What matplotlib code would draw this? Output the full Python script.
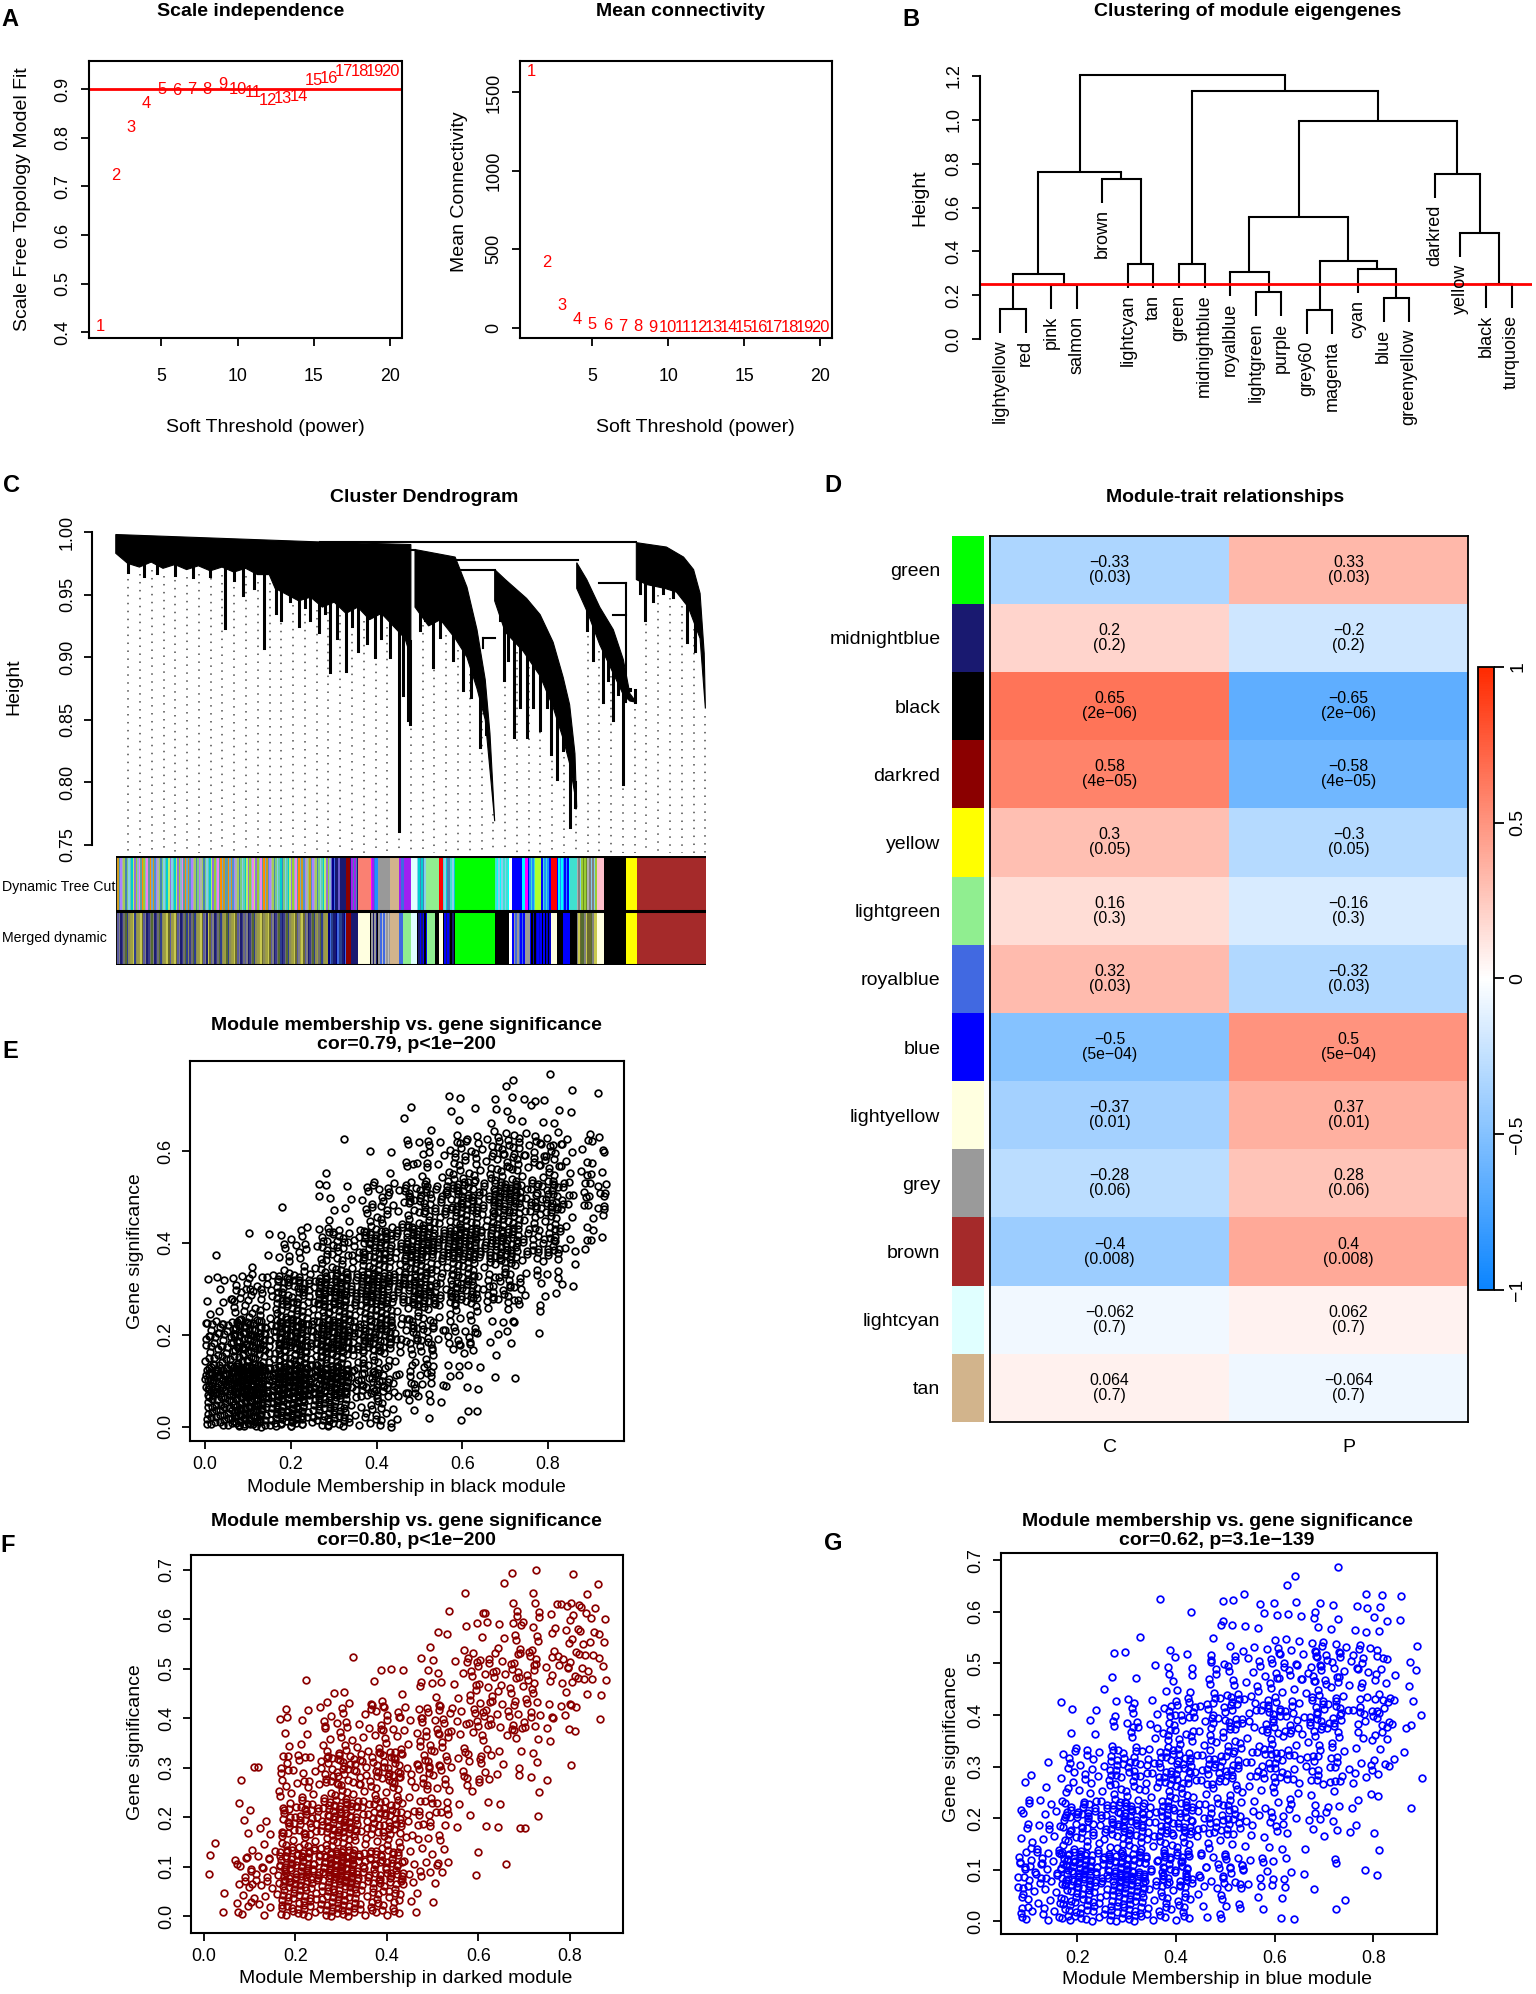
import numpy as np
import matplotlib
matplotlib.use('Agg')
import matplotlib.pyplot as plt
from matplotlib import font_manager
from matplotlib.colors import LinearSegmentedColormap, Normalize
from matplotlib.cm import ScalarMappable

names = {f.name for f in font_manager.fontManager.ttflist}
SANS = 'Liberation Sans' if 'Liberation Sans' in names else 'DejaVu Sans'
if 'Liberation Sans Narrow' in names:
    NARROW, NS = 'Liberation Sans Narrow', 1.0
else:
    NARROW, NS = SANS, 0.85   # no condensed face: shrink instead
plt.rcParams['font.family'] = SANS
plt.rcParams['axes.linewidth'] = 1.5

# ---------------- data ----------------
# A: soft threshold
powers = list(range(1, 21))
sft_fit = [0.412, 0.723, 0.822, 0.870, 0.899, 0.898, 0.900, 0.900, 0.910, 0.900,
           0.893, 0.876, 0.880, 0.884, 0.918, 0.923, 0.936, 0.936, 0.937, 0.937]
mean_k = [1636, 416, 139, 49, 22, 11, 6, 4, 3, 2,
          1.5, 1.2, 1.0, 0.8, 0.6, 0.5, 0.4, 0.3, 0.3, 0.2]

# B: eigengene dendrogram
me_leaves = ['lightyellow', 'red', 'pink', 'salmon', 'brown', 'lightcyan', 'tan',
             'green', 'midnightblue', 'royalblue', 'lightgreen', 'purple', 'grey60',
             'magenta', 'cyan', 'blue', 'greenyellow', 'darkred', 'yellow', 'black',
             'turquoise']
me_merges = [('lightyellow', 'red', 0.138), ('pink', 'salmon', 0.248), (0, 1, 0.296),
             ('lightcyan', 'tan', 0.343), ('brown', 3, 0.731), (2, 4, 0.763),
             ('green', 'midnightblue', 0.343), ('lightgreen', 'purple', 0.216),
             ('royalblue', 7, 0.307), ('grey60', 'magenta', 0.131),
             ('blue', 'greenyellow', 0.187), ('cyan', 10, 0.319), (9, 11, 0.357),
             (8, 12, 0.556), ('black', 'turquoise', 0.251), ('yellow', 14, 0.483),
             ('darkred', 15, 0.753), (13, 16, 0.995), (6, 17, 1.132), (5, 18, 1.203)]
me_cut = 0.25

# C: gene dendrogram outline (x = fraction of genes, h = height)
gene_clusters = [
    dict(top=[(0.0, 0.998), (0.35, 0.992), (0.50, 0.990)],
         fringe=[(0.0, 0.983), (0.02, 0.975), (0.04, 0.972), (0.06, 0.976), (0.08, 0.971),
                 (0.10, 0.974), (0.12, 0.970), (0.14, 0.973), (0.16, 0.969), (0.18, 0.972),
                 (0.20, 0.968), (0.22, 0.971), (0.24, 0.966), (0.26, 0.966), (0.27, 0.955),
                 (0.29, 0.950), (0.31, 0.945), (0.33, 0.948), (0.35, 0.940), (0.37, 0.944),
                 (0.39, 0.935), (0.41, 0.940), (0.43, 0.930), (0.45, 0.935), (0.47, 0.925),
                 (0.49, 0.915), (0.50, 0.900)]),
    dict(top=[(0.507, 0.986), (0.575, 0.980), (0.595, 0.956), (0.612, 0.922),
              (0.626, 0.882), (0.634, 0.839), (0.642, 0.769)],
         fringe=[(0.507, 0.940), (0.53, 0.925), (0.55, 0.930), (0.575, 0.915), (0.595, 0.900),
                 (0.612, 0.875), (0.626, 0.850), (0.634, 0.810), (0.642, 0.769)]),
    dict(top=[(0.642, 0.970), (0.66, 0.962), (0.696, 0.947), (0.719, 0.934), (0.741, 0.912),
              (0.758, 0.884), (0.769, 0.862), (0.778, 0.823), (0.781, 0.780)],
         fringe=[(0.642, 0.945), (0.66, 0.920), (0.69, 0.905), (0.719, 0.885), (0.741, 0.860),
                 (0.758, 0.835), (0.769, 0.815), (0.778, 0.790), (0.781, 0.780)]),
    dict(top=[(0.781, 0.9755), (0.798, 0.962), (0.820, 0.940), (0.843, 0.922),
              (0.860, 0.898), (0.871, 0.871), (0.882, 0.864)],
         fringe=[(0.781, 0.955), (0.80, 0.935), (0.82, 0.910), (0.84, 0.890), (0.86, 0.870),
                 (0.871, 0.865), (0.882, 0.864)]),
    dict(top=[(0.882, 0.9915), (0.933, 0.988), (0.962, 0.980), (0.979, 0.970),
              (0.990, 0.951), (0.997, 0.903), (0.999, 0.859)],
         fringe=[(0.882, 0.962), (0.90, 0.958), (0.93, 0.955), (0.95, 0.952), (0.97, 0.940),
                 (0.99, 0.915), (0.999, 0.859)]),
]
gene_spikes = [(0.02, 0.968), (0.047, 0.965), (0.07, 0.967), (0.10, 0.966), (0.13, 0.964),
               (0.16, 0.965), (0.185, 0.923), (0.20, 0.962), (0.216, 0.950), (0.235, 0.955),
               (0.251, 0.907), (0.272, 0.935), (0.28, 0.930), (0.295, 0.945), (0.31, 0.925),
               (0.32, 0.940), (0.329, 0.930), (0.345, 0.920), (0.355, 0.935), (0.363, 0.888),
               (0.375, 0.915), (0.39, 0.889), (0.40, 0.925), (0.41, 0.905), (0.425, 0.911),
               (0.44, 0.900), (0.45, 0.915), (0.465, 0.900), (0.48, 0.761), (0.487, 0.870),
               (0.495, 0.850), (0.498, 0.847),
               (0.515, 0.922), (0.524, 0.930), (0.538, 0.892), (0.549, 0.916), (0.560, 0.930),
               (0.571, 0.898), (0.588, 0.874), (0.602, 0.868), (0.617, 0.828), (0.628, 0.839),
               (0.651, 0.930), (0.657, 0.882), (0.665, 0.898), (0.674, 0.836), (0.685, 0.860),
               (0.696, 0.836), (0.707, 0.860), (0.719, 0.842), (0.730, 0.860), (0.738, 0.823),
               (0.747, 0.803), (0.758, 0.826), (0.769, 0.764), (0.778, 0.780),
               (0.798, 0.922), (0.809, 0.898), (0.825, 0.864), (0.834, 0.882), (0.843, 0.850),
               (0.851, 0.871), (0.860, 0.799), (0.871, 0.874), (0.880, 0.864),
               (0.888, 0.951), (0.896, 0.930), (0.910, 0.945), (0.927, 0.951), (0.944, 0.948),
               (0.967, 0.912), (0.982, 0.905)]
gene_links = [(0.346, 0.882, 0.992), (0.417, 0.507, 0.9856), (0.575, 0.783, 0.9776),
              (0.581, 0.642, 0.970), (0.818, 0.865, 0.959), (0.843, 0.865, 0.934),
              (0.623, 0.642, 0.915)]
gene_drops = [(0.865, 0.959, 0.864), (0.623, 0.915, 0.907)]

# colour rows under the gene dendrogram: (start, end, colours)
mix_top = ['#6CA6CD', '#9ACD32', '#87CEEB', '#AB82FF', '#5F9EA0', '#BCEE68', '#4682B4',
           '#CD9B1D', '#8DB6CD', '#66CDAA', '#B0B0B0', '#FF8C00', '#9370DB', '#7CCD7C',
           '#4F94CD', '#EE82EE', '#00CED1', '#A2CD5A']
mix_bot = ['#6B6B2E', '#2E3D8F', '#808080', '#9A9A48', '#3A3A8C', '#C8C850', '#556B2F',
           '#5A5AA0', '#8B8B5A', '#1C1C70', '#A0A040', '#707070']
tree_cut = [(0, 0.364, mix_top), (0.364, 0.380, ['#191970', '#4169E1', '#00008B', '#6A5ACD']),
            (0.380, 0.390, ['#191970']), (0.390, 0.396, ['#8B0000']),
            (0.396, 0.411, ['#191970', '#A020F0', '#4682B4']), (0.411, 0.432, ['#FA8072']),
            (0.432, 0.445, ['#4169E1', '#A020F0', '#FF00FF', '#1E90FF']),
            (0.445, 0.464, ['#999999']), (0.464, 0.480, ['#D2B48C']),
            (0.480, 0.490, ['#4169E1', '#A020F0']), (0.490, 0.500, ['#A020F0']),
            (0.500, 0.510, ['#E0FFFF']), (0.510, 0.526, ['#87CEEB', '#00CED1', '#4682B4']),
            (0.526, 0.547, ['#90EE90']), (0.547, 0.554, ['#FF0000']),
            (0.554, 0.575, ['#87CEEB', '#40E0D0', '#4682B4', '#00CED1']),
            (0.575, 0.643, ['#00FF00']), (0.643, 0.666, ['#40E0D0', '#00FFFF', '#87CEEB']),
            (0.666, 0.672, ['#FFFFFF']), (0.672, 0.688, ['#0000FF']), (0.688, 0.693, ['#00FFFF']),
            (0.693, 0.698, ['#FF00FF']), (0.698, 0.711, ['#0000FF', '#1E90FF', '#40E0D0']),
            (0.711, 0.721, ['#ADFF2F']), (0.721, 0.737, ['#0000FF', '#40E0D0', '#1E90FF']),
            (0.737, 0.747, ['#FF0000']), (0.747, 0.769, ['#0000FF', '#00FFFF', '#1E90FF']),
            (0.769, 0.781, ['#40E0D0']),
            (0.781, 0.815, ['#9ACD32', '#808080', '#6B8E23', '#87CEEB', '#B0B0B0']),
            (0.815, 0.828, ['#FFC0CB']), (0.828, 0.864, ['#000000']),
            (0.864, 0.883, ['#FFFF00']), (0.883, 1.0, ['#A52A2A'])]
merged = [(0, 0.360, mix_bot), (0.360, 0.390, ['#191970', '#27408B', '#4169E1', '#000080']),
          (0.390, 0.398, ['#8B0000']), (0.398, 0.411, ['#191970']), (0.411, 0.430, ['#FFFFE0']),
          (0.430, 0.445, ['#000000', '#999999', '#191970']),
          (0.445, 0.464, ['#999999', '#4169E1', '#BEBEBE']), (0.464, 0.480, ['#D2B48C']),
          (0.480, 0.487, ['#4169E1']), (0.487, 0.500, ['#90EE90']), (0.500, 0.510, ['#E0FFFF']),
          (0.510, 0.528, ['#000000', '#191970', '#0000FF']), (0.528, 0.541, ['#90EE90']),
          (0.541, 0.547, ['#000000']), (0.547, 0.554, ['#FFFFE0']),
          (0.554, 0.575, ['#000000', '#0000FF', '#191970']), (0.575, 0.643, ['#00FF00']),
          (0.643, 0.666, ['#000000']), (0.666, 0.672, ['#FFFFFF']),
          (0.672, 0.695, ['#0000FF', '#999999', '#4169E1']), (0.695, 0.701, ['#999999']),
          (0.701, 0.737, ['#0000FF', '#000000', '#0000CD']), (0.737, 0.747, ['#FFFFE0']),
          (0.747, 0.757, ['#000000']), (0.757, 0.769, ['#0000FF']), (0.769, 0.781, ['#000000']),
          (0.781, 0.815, ['#6B6B2E', '#C8C850', '#808080', '#556B2F']),
          (0.815, 0.828, ['#FFFFE0']), (0.828, 0.864, ['#000000']),
          (0.864, 0.883, ['#FFFF00']), (0.883, 1.0, ['#A52A2A'])]

# D: module-trait relationships
modules = ['green', 'midnightblue', 'black', 'darkred', 'yellow', 'lightgreen', 'royalblue',
           'blue', 'lightyellow', 'grey', 'brown', 'lightcyan', 'tan']
module_hex = ['#00FF00', '#191970', '#000000', '#8B0000', '#FFFF00', '#90EE90', '#4169E1',
              '#0000FF', '#FFFFE0', '#9A9A9A', '#A52A2A', '#E0FFFF', '#D2B48C']
traits = ['C', 'P']
cor_C = [-0.33, 0.2, 0.65, 0.58, 0.3, 0.16, 0.32, -0.5, -0.37, -0.28, -0.4, -0.062, 0.064]
cor_P = [0.33, -0.2, -0.65, -0.58, -0.3, -0.16, -0.32, 0.5, 0.37, 0.28, 0.4, 0.062, -0.064]
pval = ['0.03', '0.2', '2e-06', '4e-05', '0.05', '0.3', '0.03', '5e-04', '0.01', '0.06',
        '0.008', '0.7', '0.7']

# E-G: gene counts in 0.1 x 0.1 cells of (module membership, gene significance)
black_counts = [[150, 150, 130, 60, 20, 8, 2, 0, 0, 0],
                [120, 130, 140, 90, 35, 20, 10, 0, 0, 0],
                [30, 70, 110, 110, 70, 40, 25, 5, 0, 0],
                [2, 15, 40, 80, 100, 90, 70, 35, 5, 0],
                [0, 0, 5, 25, 50, 80, 90, 80, 30, 2],
                [0, 0, 1, 3, 12, 35, 55, 60, 30, 8],
                [0, 0, 0, 0, 1, 6, 12, 18, 6, 0],
                [0, 0, 0, 0, 0, 0, 2, 4, 0, 1]]
black_xedges = [0.0, 0.1, 0.2, 0.3, 0.4, 0.5, 0.6, 0.7, 0.8, 0.9, 0.94]
black_yedges = [0.0, 0.1, 0.2, 0.3, 0.4, 0.5, 0.6, 0.7, 0.77]
darkred_counts = [[8, 50, 110, 90, 20, 0, 0, 0, 0],
                  [1, 25, 100, 80, 30, 10, 2, 0, 0],
                  [0, 8, 55, 70, 35, 15, 8, 1, 0],
                  [0, 1, 25, 45, 35, 35, 20, 8, 0],
                  [0, 0, 4, 6, 10, 25, 35, 25, 10],
                  [0, 0, 0, 0, 1, 6, 25, 25, 22],
                  [0, 0, 0, 0, 0, 1, 4, 5, 6],
                  [0, 0, 0, 0, 0, 0, 0, 1, 0]]
darkred_xedges = [0.01, 0.1, 0.2, 0.3, 0.4, 0.5, 0.6, 0.7, 0.8, 0.88]
darkred_yedges = [0.0, 0.1, 0.2, 0.3, 0.4, 0.5, 0.6, 0.7, 0.705]
blue_counts = [[6, 60, 110, 70, 30, 15, 5, 2, 0],
               [3, 45, 90, 70, 40, 25, 10, 6, 0],
               [0, 12, 50, 60, 55, 35, 20, 15, 3],
               [0, 1, 20, 35, 55, 40, 45, 35, 10],
               [0, 0, 3, 10, 25, 35, 45, 40, 15],
               [0, 0, 0, 2, 8, 10, 18, 20, 8],
               [0, 0, 0, 0, 0, 3, 4, 1, 1]]
blue_xedges = [0.08, 0.1, 0.2, 0.3, 0.4, 0.5, 0.6, 0.7, 0.8, 0.9]
blue_yedges = [0.0, 0.1, 0.2, 0.3, 0.4, 0.5, 0.6, 0.69]

# ---------------- figure ----------------
W, H = 1536, 1994
fig = plt.figure(figsize=(W / 100, H / 100), dpi=100)


def box(l, t, r, b):
    return fig.add_axes([l / W, 1 - b / H, (r - l) / W, (b - t) / H])


def ftext(x, y, s, **kw):
    kw.setdefault('ha', 'center')
    kw.setdefault('va', 'center')
    return fig.text(x / W, 1 - y / H, s, **kw)


def r_axes(ax, xpad=12, ypad=6, xsize=15, ysize=13):
    ax.tick_params(direction='out', length=5.5, width=1.3, top=False, right=False)
    ax.tick_params(axis='x', pad=xpad, labelsize=xsize * NS)
    ax.tick_params(axis='y', pad=ypad, labelsize=ysize, labelrotation=90)
    for lab in ax.get_xticklabels():
        lab.set_fontfamily(NARROW)
    for lab in ax.get_yticklabels():
        lab.set_va('center')


def letter(x, y, s):
    ftext(x, y, s, fontsize=17, fontweight='bold')


# ---- A ----
ax = box(89, 61, 401.5, 337.7)
for p, v in zip(powers, sft_fit):
    ax.text(p, v, str(p), color='red', ha='center', va='center', fontsize=14 * NS, family=NARROW)
ax.axhline(0.90, color='red', lw=2)
ax.set_xlim(0.24, 20.76)
ax.set_ylim(0.389, 0.958)
ax.set_xticks([5, 10, 15, 20])
ax.set_yticks([0.4, 0.5, 0.6, 0.7, 0.8, 0.9])
r_axes(ax, xpad=16, ypad=7)
ftext(251, 12, 'Scale independence', fontsize=14, fontweight='bold')
ftext(265, 428, 'Soft Threshold (power)', fontsize=14)
ftext(23, 199, 'Scale Free Topology Model Fit', fontsize=14, rotation=90)

ax = box(520, 61, 831.5, 337.7)
for p, v in zip(powers, mean_k):
    ax.text(p, v, str(p), color='red', ha='center', va='center', fontsize=14 * NS, family=NARROW)
ax.set_xlim(0.24, 20.76)
ax.set_ylim(-65, 1701)
ax.set_xticks([5, 10, 15, 20])
ax.set_yticks([0, 500, 1000, 1500])
r_axes(ax, xpad=16, ypad=7)
ftext(681, 12, 'Mean connectivity', fontsize=14, fontweight='bold')
ftext(695, 428, 'Soft Threshold (power)', fontsize=14)
ftext(459, 192, 'Mean Connectivity', fontsize=14, rotation=90)
letter(10, 20, 'A')

# ---- B ----
ax = box(979.5, 65, 1532, 345)
ax.set_xlim(0.2, 21.8)
ax.set_ylim(-0.027, 1.25)
hang = 0.11
leaf_pos = {n: i + 1 for i, n in enumerate(me_leaves)}
node_x, node_h = {}, {}
for k, (a, b, hgt) in enumerate(me_merges):
    xs = []
    for c in (a, b):
        if isinstance(c, str):
            cx, ch = leaf_pos[c], hgt - hang
            ax.text(cx, ch - 0.03, c, rotation=90, ha='center', va='top', fontsize=13,
                    clip_on=False)
        else:
            cx, ch = node_x[c], node_h[c]
        ax.plot([cx, cx], [ch, hgt], color='black', lw=1.5, solid_capstyle='butt')
        xs.append(cx)
    ax.plot(xs, [hgt, hgt], color='black', lw=1.5)
    node_x[k], node_h[k] = np.mean(xs), hgt
ax.axhline(me_cut, color='red', lw=2)
for s in ['top', 'right', 'bottom']:
    ax.spines[s].set_visible(False)
ax.spines['left'].set_bounds(0, 1.2)
ax.set_xticks([])
ax.set_yticks([0.0, 0.2, 0.4, 0.6, 0.8, 1.0, 1.2])
ax.set_yticklabels(['0.0', '0.2', '0.4', '0.6', '0.8', '1.0', '1.2'])
r_axes(ax, ypad=7)
ftext(1248, 12, 'Clustering of module eigengenes', fontsize=14, fontweight='bold')
ftext(920, 198, 'Height', fontsize=14, rotation=90)
letter(911, 20, 'B')

# ---- C ----
ax = box(92, 520, 712, 853)
ax.set_xlim(-0.0403, 1.0102)
ax.set_ylim(0.7436, 1.0096)
fr = sorted(pt for c in gene_clusters for pt in c['fringe'])
fr_x = [p[0] for p in fr]
fr_h = [p[1] for p in fr]
for gx in np.linspace(0.021, 0.999, 50):
    gtop = np.interp(gx, fr_x, fr_h) - 0.006
    ax.plot([gx, gx], [gtop, 0.7436], ls=(0, (1, 4.2)), lw=1.1, color='#4D4D4D', zorder=1)
for c in gene_clusters:
    px = [p[0] for p in c['top']] + [p[0] for p in c['fringe'][::-1]]
    py = [p[1] for p in c['top']] + [p[1] for p in c['fringe'][::-1]]
    ax.fill(px, py, color='black', lw=0.8, zorder=2)
for sx, sh in gene_spikes:
    ax.plot([sx, sx], [np.interp(sx, fr_x, fr_h) + 0.01, sh], color='black', lw=2.2, zorder=2)
for x0, x1, hgt in gene_links:
    ax.plot([x0, x1], [hgt, hgt], color='black', lw=1.5, zorder=2)
for dx, h0, h1 in gene_drops:
    ax.plot([dx, dx], [h0, h1], color='black', lw=1.5, zorder=2)
for s in ['top', 'right', 'bottom']:
    ax.spines[s].set_visible(False)
ax.spines['left'].set_bounds(0.75, 1.0)
ax.set_xticks([])
ax.set_yticks([0.75, 0.80, 0.85, 0.90, 0.95, 1.00])
ax.set_yticklabels(['0.75', '0.80', '0.85', '0.90', '0.95', '1.00'])
r_axes(ax, ypad=6)
ftext(424, 497, 'Cluster Dendrogram', fontsize=14, fontweight='bold')
ftext(14, 687, 'Height', fontsize=14, rotation=90)
letter(12, 485, 'C')

ax = box(115.8, 856, 706, 965)
ax.set_xlim(0, 1)
ax.set_ylim(0, 2)
stripe = 0.0026
for row, segs in ((1, tree_cut), (0, merged)):
    for k, (s0, s1, cols) in enumerate(segs):
        if len(cols) == 1:
            ax.bar(s0, 1, width=s1 - s0, bottom=row, align='edge', color=cols[0], lw=0)
        else:
            edges = np.arange(s0, s1, stripe)
            for i, e in enumerate(edges):
                col = cols[(i * 7 + k * 3 + (i // len(cols))) % len(cols)]
                ax.bar(e, 1, width=min(stripe, s1 - e), bottom=row, align='edge', color=col, lw=0)
for yy in (0, 1, 2):
    ax.axhline(yy, color='black', lw=2.2)
ax.axvline(0, color='black', lw=1.2)
ax.axis('off')
ftext(2, 887, 'Dynamic Tree Cut', fontsize=12 * NS, family=NARROW, ha='left')
ftext(2, 938, 'Merged dynamic', fontsize=12 * NS, family=NARROW, ha='left')

# ---- D ----
cmap = LinearSegmentedColormap.from_list('bwr_wgcna', ['#0A84FF', '#FFFFFF', '#FF2A00'])
ax = box(990, 535.7, 1468, 1422)
vals = np.column_stack([cor_C, cor_P])
ax.pcolormesh(np.arange(3), np.arange(len(modules) + 1), vals, cmap=cmap, vmin=-1, vmax=1)
ax.set_xlim(0, 2)
ax.set_ylim(len(modules), 0)
for i in range(len(modules)):
    for j, v in enumerate((cor_C[i], cor_P[i])):
        ax.text(j + 0.5, i + 0.5, '%s\n(%s)' % (str(v).replace('-', '\u2212'), pval[i].replace('-', '\u2212')),
                ha='center', va='center', fontsize=13.5 * NS, family=NARROW, linespacing=1.0)
ax.set_xticks([0.5, 1.5])
ax.set_xticklabels(traits, fontsize=14)
ax.set_yticks([])
ax.tick_params(axis='x', length=0, pad=12)
for s in ax.spines.values():
    s.set_linewidth(1.3)

ax = box(951.6, 535.7, 984.5, 1422)
ax.bar(np.zeros(len(modules)), 1, width=1, bottom=np.arange(len(modules)), align='edge',
       color=module_hex, lw=0)
ax.set_xlim(0, 1)
ax.set_ylim(len(modules), 0)
ax.set_xticks([])
ax.set_yticks(np.arange(len(modules)) + 0.5)
ax.set_yticklabels(modules, fontsize=14)
ax.tick_params(axis='y', length=0, pad=8)
for s in ax.spines.values():
    s.set_visible(False)

cax = box(1478, 667, 1494, 1290)
cb = fig.colorbar(ScalarMappable(Normalize(-1, 1), cmap), cax=cax)
cb.set_ticks([-1, -0.5, 0, 0.5, 1])
cb.set_ticklabels(['\u22121', '\u22120.5', '0', '0.5', '1'])
cb.outline.set_linewidth(1.3)
cax.tick_params(direction='out', length=7, width=1.3, labelsize=14, labelrotation=90, pad=4)
for lab in cax.get_yticklabels():
    lab.set_va('center')
ftext(1225, 497, 'Module-trait relationships', fontsize=14, fontweight='bold')
letter(833, 485, 'D')


# ---- E, F, G ----
def cell_points(counts, xedges, yedges, spread=0.35):
    # spread each cell's genes a little past its edges so the grid does not show
    xs, ys = [], []
    k = 0
    for i, row in enumerate(counts):
        for j, n in enumerate(row):
            dx = xedges[j + 1] - xedges[j]
            dy = yedges[i + 1] - yedges[i]
            x0 = max(xedges[j] - spread * dx, xedges[0])
            x1 = min(xedges[j + 1] + spread * dx, xedges[-1])
            y0 = max(yedges[i] - spread * dy, yedges[0])
            y1 = min(yedges[i + 1] + spread * dy, yedges[-1])
            for m in range(n):
                k += 1
                u = (0.5 + k * 0.7548776662) % 1.0
                v = (0.5 + k * 0.5698402910) % 1.0
                xs.append(x0 + u * (x1 - x0))
                ys.append(y0 + v * (y1 - y0))
    return np.array(xs), np.array(ys)


def mm_panel(rect, counts, xedges, yedges, color, xlim, ylim, xticks, yticks, title2,
             tx, ty, xlab, xl_y, yl_x, yl_y, xpad):
    ax = box(*rect)
    xs, ys = cell_points(counts, xedges, yedges)
    ax.plot(xs, ys, 'o', mfc='none', mec=color, ms=4.8, mew=1.25)
    ax.set_xlim(*xlim)
    ax.set_ylim(*ylim)
    ax.set_xticks(xticks)
    ax.set_xticklabels(['%.1f' % t for t in xticks])
    ax.set_yticks(yticks)
    ax.set_yticklabels(['%.1f' % t for t in yticks])
    r_axes(ax, xpad=xpad, ypad=6)
    ftext(tx, ty, 'Module membership vs. gene significance', fontsize=14, fontweight='bold')
    ftext(tx, ty + 19, title2, fontsize=14, fontweight='bold')
    ftext(tx, xl_y, xlab, fontsize=14)
    ftext(yl_x, yl_y, 'Gene significance', fontsize=14, rotation=90)


mm_panel((190, 1061, 624, 1441), black_counts, black_xedges, black_yedges, 'black',
         (-0.035, 0.977), (-0.031, 0.796), [0.0, 0.2, 0.4, 0.6, 0.8], [0.0, 0.2, 0.4, 0.6],
         'cor=0.79, p<1e\u2212200', 406, 1025, 'Module Membership in black module', 1487, 135, 1251, 5)
letter(10, 1052, 'E')
mm_panel((191, 1555, 623, 1933), darkred_counts, darkred_xedges, darkred_yedges, '#8B0000',
         (-0.028, 0.9166), (-0.0335, 0.73), [0.0, 0.2, 0.4, 0.6, 0.8],
         [0.0, 0.1, 0.2, 0.3, 0.4, 0.5, 0.6, 0.7],
         'cor=0.80, p<1e\u2212200', 406, 1521, 'Module Membership in darked module', 1978, 135, 1742, 5)
letter(8, 1545, 'F')
mm_panel((1000.5, 1553, 1436.8, 1934), blue_counts, blue_xedges, blue_yedges, '#0000FF',
         (0.044, 0.929), (-0.0244, 0.714), [0.2, 0.4, 0.6, 0.8],
         [0.0, 0.1, 0.2, 0.3, 0.4, 0.5, 0.6, 0.7],
         'cor=0.62, p=3.1e\u2212139', 1217, 1521, 'Module Membership in blue module', 1979, 951, 1744, 6)
letter(833, 1543, 'G')

fig.savefig('out.png', dpi=100)
